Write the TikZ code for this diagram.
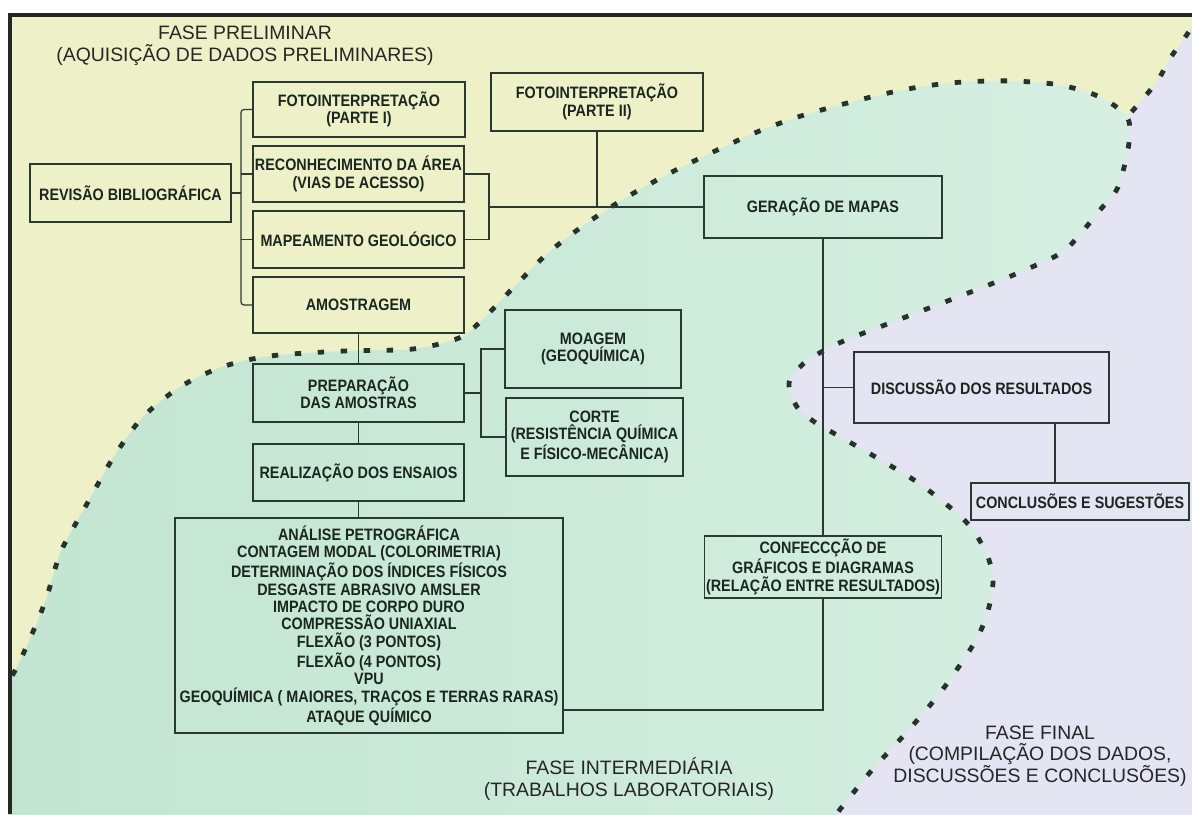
\documentclass[tikz,border=0pt]{standalone}
\usepackage{fontspec}
\setmainfont{Liberation Sans}
\newfontfamily\caixafont[FakeStretch=0.87]{Liberation Sans}
\usepackage{xcolor}
\definecolor{amarelo}{HTML}{EEF1C8}
\definecolor{verdeesc}{HTML}{C2E5D1}
\definecolor{verdeclaro}{HTML}{D6EFE2}
\definecolor{lilas}{HTML}{E4E4F2}
\definecolor{traco}{HTML}{2B3A30}
\definecolor{pontos}{HTML}{26332D}
\definecolor{texto}{HTML}{1B2620}
\definecolor{moldura}{HTML}{262626}
\tikzset{
	etapa/.style={
		draw=traco,
		line width=0.6pt,
		align=center,
		inner sep=0pt,
		text=texto,
		font=\caixafont\bfseries\fontsize{8.25}{8.7}\selectfont
	},
	coluna/.style={
		etapa,
		minimum width=105.5pt,
		minimum height=28pt
	},
	fase/.style={
		align=center,
		text=moldura,
		font=\fontsize{9.7}{10.8}\selectfont
	},
	fronteira/.style={
		draw=pontos,
		line width=2.4pt,
		dash pattern=on 3.2pt off 8.3pt
	},
	liga/.style={draw=traco, line width=0.6pt}
}

\begin{document}
\begin{tikzpicture}[x=0.5pt,y=-0.5pt]
	\useasboundingbox (0,0) rectangle (1192,814);
	\fill[white] (0,0) rectangle (1192,814);
	
	% zonas das fases
	\begin{scope}
		\clip (8,14) rectangle (1192,814);
		\fill[amarelo] (8,14) rectangle (1192,814);
		\shade[left color=verdeesc,right color=verdeclaro] (0,822) -- plot[smooth] coordinates {(0,695) (17,667) (38,620) (48,593) (54,572) (63,547) (88,502) (113,458) (142,418) (180,387) (222,367) (270,356) (344,351) (413,349) (459,338) (480,322) (513,288) (548,253) (587,223) (627,197) (670,173) (713,152) (757,132) (804,115) (871,97) (919,87) (963,82) (1012,81) (1060,85) (1100,97) (1127,117) (1129,143) (1118,187) (1100,210) (1065,250) (1025,270) (981,288) (937,305) (890,323) (846,340) (823,351) (803,364) (789,383) (797,407) (816,423) (837,435) (879,459) (920,484) (959,515) (975,533) (988,557) (993,581) (989,607) (981,630) (968,653) (940,693) (906,733) (872,770) (838,812) (832,822)} -- cycle;
		\fill[lilas] (1200,12) -- plot[smooth] coordinates {(1200,12) (1188,33) (1171,57) (1158,80) (1142,100) (1127,117) (1129,143) (1118,187) (1100,210) (1065,250) (1025,270) (981,288) (937,305) (890,323) (846,340) (823,351) (803,364) (789,383) (797,407) (816,423) (837,435) (879,459) (920,484) (959,515) (975,533) (988,557) (993,581) (989,607) (981,630) (968,653) (940,693) (906,733) (872,770) (838,812) (832,822)} -- (1200,822) -- cycle;
		\draw[fronteira] plot[smooth] coordinates {(0,695) (17,667) (38,620) (48,593) (54,572) (63,547) (88,502) (113,458) (142,418) (180,387) (222,367) (270,356) (344,351) (413,349) (459,338) (480,322) (513,288) (548,253) (587,223) (627,197) (670,173) (713,152) (757,132) (804,115) (871,97) (919,87) (963,82) (1012,81) (1060,85) (1100,97) (1127,117) (1129,143) (1118,187) (1100,210) (1065,250) (1025,270) (981,288) (937,305) (890,323) (846,340) (823,351) (803,364) (789,383) (797,407) (816,423) (837,435) (879,459) (920,484) (959,515) (975,533) (988,557) (993,581) (989,607) (981,630) (968,653) (940,693) (906,733) (872,770) (838,812) (832,822)};
		\draw[fronteira] plot[smooth] coordinates {(1200,12) (1188,33) (1171,57) (1158,80) (1142,100) (1127,117)};
	\end{scope}
	\draw[moldura,line width=2pt] (10,814) -- (10,15) -- (1192,15);
	
	% fases
	\node[fase] (preliminar) at (245,46) {FASE PRELIMINAR\\(AQUISIÇÃO DE DADOS PRELIMINARES)};
	\node[fase] (intermediaria) at (629,779) {FASE INTERMEDIÁRIA\\(TRABALHOS LABORATORIAIS)};
	\node[fase] (final) at (1040,756) {FASE FINAL\\(COMPILAÇÃO DOS DADOS,\\DISCUSSÕES E CONCLUSÕES)};
	
	% etapas
	\node[etapa,minimum width=100.5pt,minimum height=29pt] (revisao) at (130.5,193) {REVISÃO BIBLIOGRÁFICA};
	\node[coluna,minimum width=106pt,minimum height=27.5pt] (foto1) at (359,109.5) {FOTOINTERPRETAÇÃO\\(PARTE I)};
	\node[coluna] (recon) at (358.5,174) {RECONHECIMENTO DA ÁREA\\(VIAS DE ACESSO)};
	\node[coluna,minimum height=28.5pt] (mapeam) at (358.5,239.5) {MAPEAMENTO GEOLÓGICO};
	\node[coluna] (amostr) at (358.5,305) {AMOSTRAGEM};
	\node[coluna,minimum height=29pt] (prep) at (358.5,393) {PREPARAÇÃO\\DAS AMOSTRAS};
	\node[coluna,minimum height=28.5pt] (realiz) at (358.5,472.5) {REALIZAÇÃO DOS ENSAIOS};
	\node[etapa,minimum width=194pt,minimum height=107.5pt] (ensaios) at (369,625.5) {ANÁLISE PETROGRÁFICA\\CONTAGEM MODAL (COLORIMETRIA)\\DETERMINAÇÃO DOS ÍNDICES FÍSICOS\\DESGASTE ABRASIVO AMSLER\\IMPACTO DE CORPO DURO\\COMPRESSÃO UNIAXIAL\\FLEXÃO (3 PONTOS)\\FLEXÃO (4 PONTOS)\\VPU\\GEOQUÍMICA ( MAIORES, TRAÇOS E TERRAS RARAS)\\ATAQUE QUÍMICO};
	\node[etapa,minimum width=106pt,minimum height=29pt] (foto2) at (597,102) {FOTOINTERPRETAÇÃO\\(PARTE II)};
	\node[etapa,minimum width=119pt,minimum height=31pt] (geracao) at (823,207) {GERAÇÃO DE MAPAS};
	\node[etapa,minimum width=88pt,minimum height=39pt] (moagem) at (593,349) {MOAGEM\\(GEOQUÍMICA)};
	\node[etapa,minimum width=88.5pt,minimum height=39pt] (corte) at (594.5,437) {CORTE\\(RESISTÊNCIA QUÍMICA\\E FÍSICO-MECÂNICA)};
	\node[etapa,minimum width=127.5pt,minimum height=35.5pt] (discussao) at (981.5,387.5) {DISCUSSÃO DOS RESULTADOS};
	\node[etapa,minimum width=109pt,minimum height=18.5pt] (conclusoes) at (1080,501.5) {CONCLUSÕES E SUGESTÕES};
	\node[etapa,minimum width=118.5pt,minimum height=31pt] (confeccao) at (823,567) {CONFECCÇÃO DE\\GRÁFICOS E DIAGRAMAS\\(RELAÇÃO ENTRE RESULTADOS)};
	
	% ligacoes
	\coordinate (barraesq) at (241,193);
	\coordinate (barradir) at (489,207);
	\coordinate (barraprep) at (481,393);
	\coordinate (ramo) at (1055,450);
	\coordinate (desce) at (823,710);
	\draw[liga] (revisao.east) -- (barraesq);
	\draw[liga,rounded corners=1.5pt] (foto1.west) -| (barraesq) |- (amostr.west);
	\draw[liga] (recon.west) -- (recon.west -| barraesq);
	\draw[liga] (mapeam.west) -- (mapeam.west -| barraesq);
	\draw[liga] (recon.east) -| (barradir) |- (mapeam.east);
	\draw[liga] (barradir) -- (geracao.west);
	\draw[liga] (foto2.south) -- (foto2.south |- barradir);
	\draw[liga] (amostr.south) -- (prep.north);
	\draw[liga] (prep.south) -- (realiz.north);
	\draw[liga] (realiz.south) -- (realiz.south |- ensaios.north);
	\draw[liga] (prep.east) -- (barraprep);
	\draw[liga] (moagem.west) -| (barraprep) |- (corte.west);
	\draw[liga] (geracao.south) -- (confeccao.north);
	\draw[liga] (discussao.west) -- (discussao.west -| geracao.south);
	\draw[liga] (ramo |- discussao.south) -- (ramo |- conclusoes.north);
	\draw[liga] (confeccao.south) -- (desce) -- (desce -| ensaios.east);
\end{tikzpicture}
\end{document}
